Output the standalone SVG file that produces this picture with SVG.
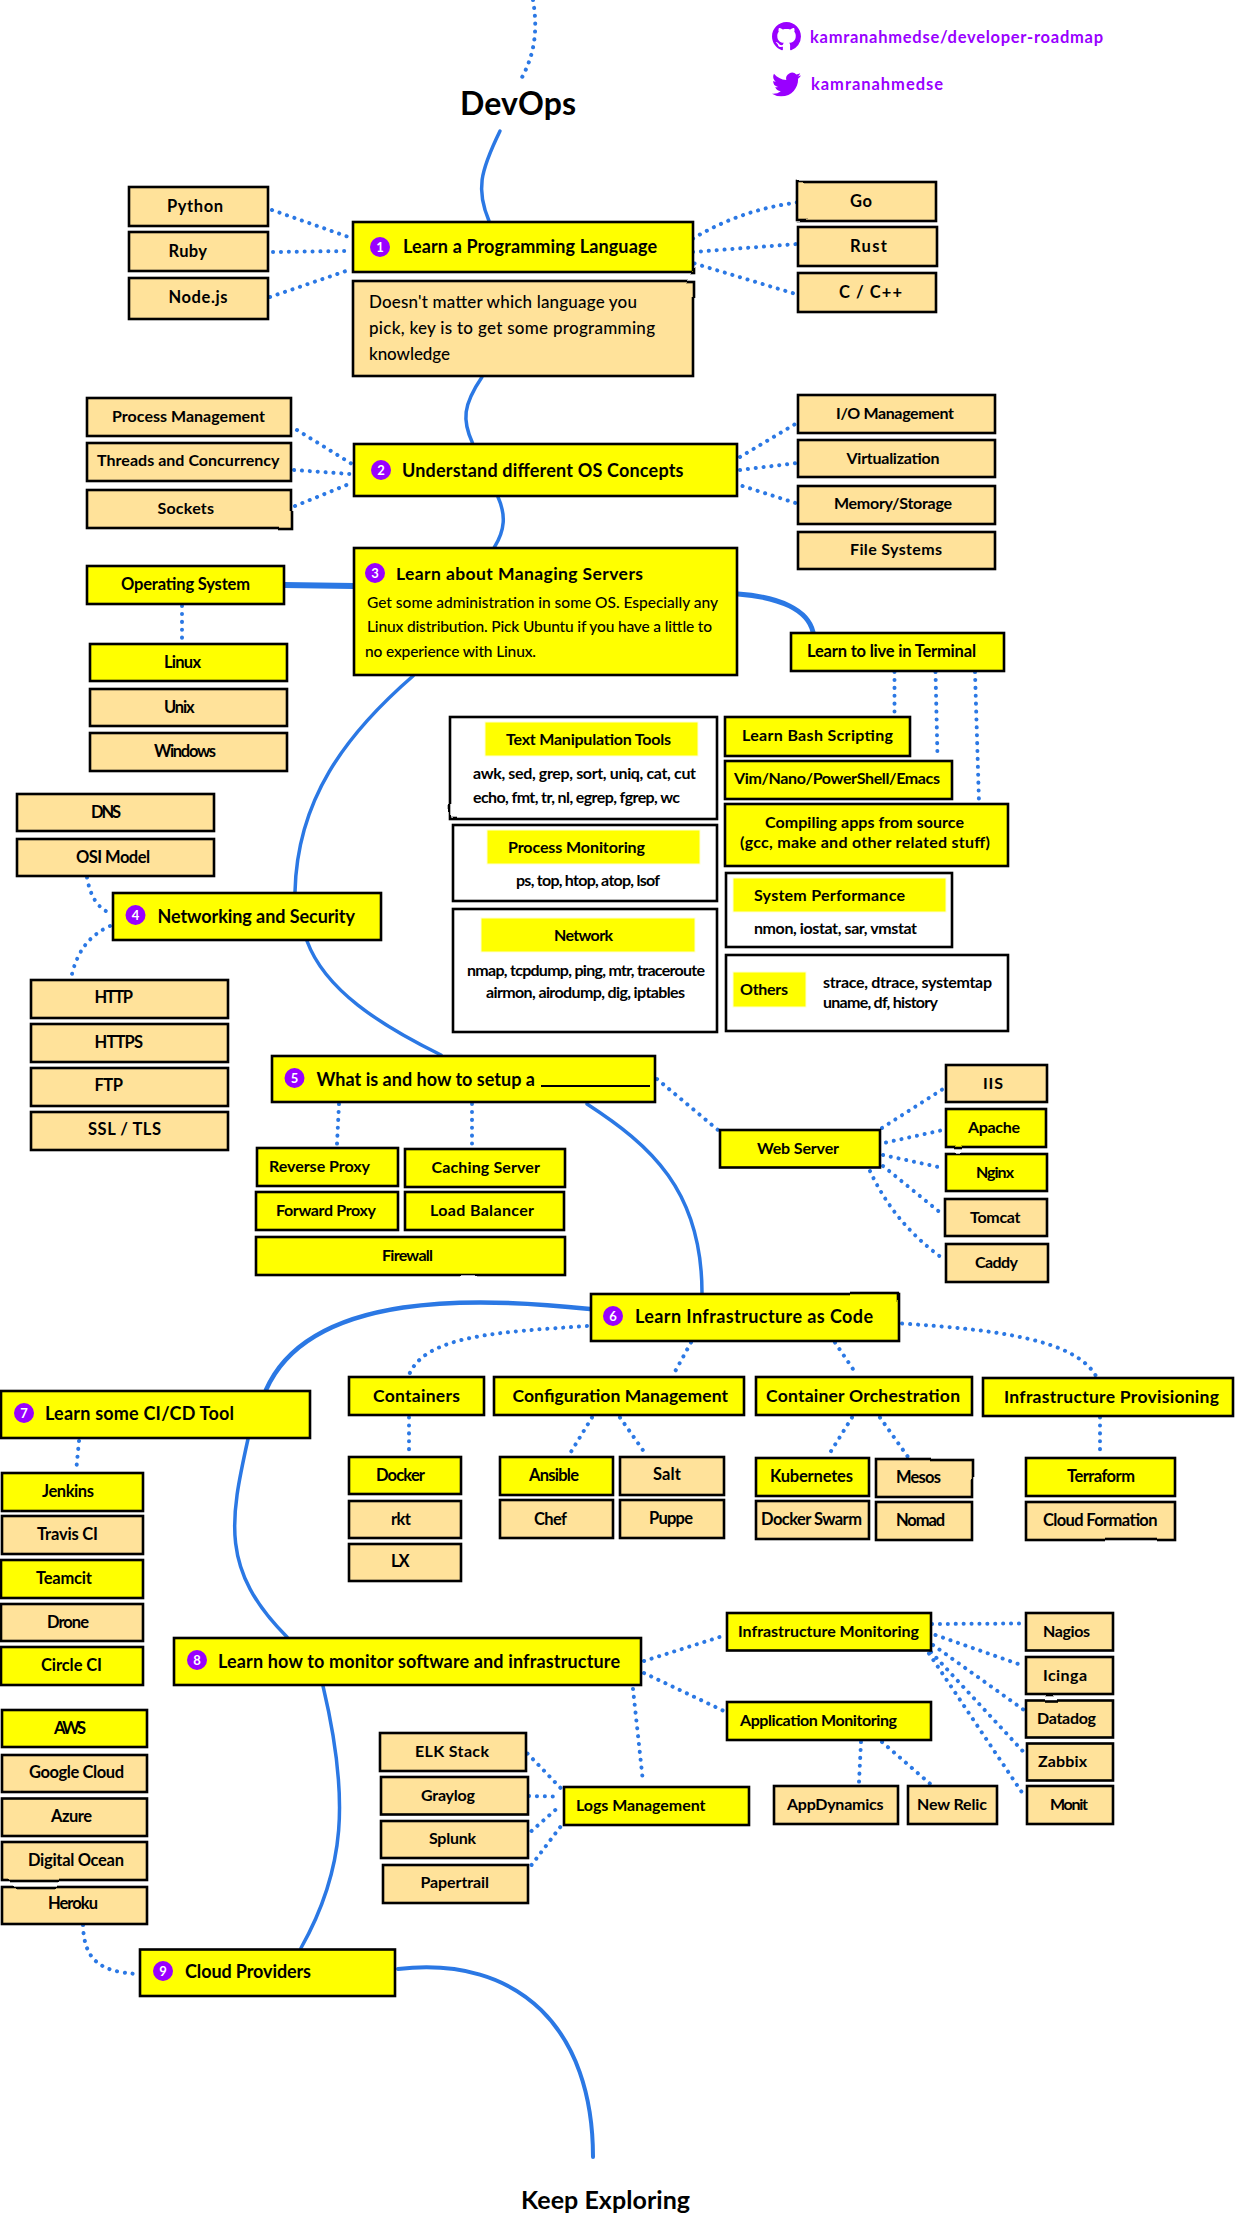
<svg xmlns="http://www.w3.org/2000/svg" width="1235" height="2218" viewBox="0 0 1235 2218">
<defs><filter id="wob" x="-5%" y="-15%" width="110%" height="130%"><feTurbulence type="fractalNoise" baseFrequency=".012" numOctaves="1" seed="4"/><feDisplacementMap in="SourceGraphic" scale="2"/></filter></defs>
<style>
text{font-family:"Lato","Noto Sans","Liberation Sans",sans-serif;font-weight:700;font-size:16.5px;fill:#000}
.y,.t,.w{stroke:#000;stroke-width:2.6;filter:url(#wob)}
.y{fill:#ff0}
.t{fill:#ffe29a}
.w{fill:#fff}
.h{fill:#ff0;stroke:#ffffd0;stroke-width:1}
.n{fill:#90f}
.num{fill:#fff;font-size:13px;text-anchor:middle}
.tt{font-size:18px}
.d{font-size:16px}
.r{font-size:15.5px;font-weight:500}
.note{font-size:17px;font-weight:500}
.lg{font-size:17.5px}
.link{fill:#90f;font-size:16.5px}
.big{font-size:32px}
.keep{font-size:25px}
.sol{fill:none;stroke:#2b78e4;stroke-width:3.5;stroke-linecap:round}
.dot{fill:none;stroke:#2b78e4;stroke-width:4;stroke-linecap:round;stroke-dasharray:.1 7.8}
.ul{stroke:#000;stroke-width:2}
</style>
<g id="connectors">
<path class="dot" d="M533 0C538 30 535 55 520 81"/>
<path class="sol" d="M500 131C480 172 476 190 489 221"/>
<path class="sol" d="M482 377C463 405 462 420 472.500 443"/>
<path class="sol" d="M498 497C506 515 505 530 494.500 547"/>
<path class="sol" d="M413 676C345 735 297 800 295 892"/>
<path class="sol" d="M307 941C325 990 380 1025 441 1055"/>
<path class="sol" d="M587 1104C650 1145 702 1190 702 1293"/>
<path class="sol" style="stroke-width:4.500" d="M590 1309C480 1297 310 1290 266 1390"/>
<path class="sol" d="M248 1439C230 1520 220 1570 287 1637"/>
<path class="sol" d="M323 1686C350 1800 345 1870 301 1948"/>
<path class="sol" style="stroke-width:4" d="M398 1969C520 1955 593 2030 593 2157"/>
<path class="sol" style="stroke-width:5" d="M738 594C780 597 808 610 813 632"/>
<path class="sol" style="stroke-width:6" d="M284 585L354 586"/>
<path class="dot" d="M272 210L350 237.500M273 252L348 251M270 297L349 270M693 238.600Q740 210 797 202.500M693 252L797 244M694.500 263.500L794 293.500"/>
<path class="dot" d="M297 430L352 464M294 470L350 474M295 506L349 484M740 457L797 423M740 470L797 463M742.500 486L797 503.500"/>
<path class="dot" d="M182 606V643M894.500 672V716M935.500 672L937.500 757M975 672L979 802.500"/>
<path class="dot" d="M87 877.500C90 895 97 908 110 913M110 926C90 935 78 950 72 974"/>
<path class="dot" d="M339 1104L337 1144M472 1104V1148M657 1079L718 1130"/>
<path class="dot" d="M882 1128L943 1089M886 1142.500L943 1130M883 1155L943 1168M883 1166L942 1214M870 1171Q895 1225 945 1260"/>
<path class="dot" d="M587 1326C500 1332 425 1335 409 1375M691 1342.500L674 1373.500M835 1342.500L857 1375M902 1323.500C1000 1330 1075 1340 1096 1376"/>
<path class="dot" d="M409 1417.500V1456M592 1417.500L568.500 1456M620 1417.500L647 1456M852 1417.500L828 1456M880 1417.500L908 1457M1100 1417.500V1455M79 1441L76 1472"/>
<path class="dot" d="M644 1661L723 1636M644 1673L724 1711M633 1689L643 1782M932 1624L1022 1623.500M935.500 1635L1024 1666M933 1645L1024 1710M931 1652L1025 1753.500M929 1653.500L1025 1797M861 1742L859 1782M882 1742L931.500 1785"/>
<path class="dot" d="M527.500 1753.500L560.600 1788M529 1796L557.500 1796.500M531.500 1831L561 1805M531.500 1865L561 1826M83 1925C84 1960 100 1972 138 1974"/>
</g>
<g id="title"><text class="big" x="460" y="115" textLength="116">DevOps</text></g>
<g id="github"><path class="n" transform="translate(772 22) scale(1.81)" d="M8 0C3.58 0 0 3.58 0 8c0 3.54 2.29 6.53 5.47 7.59.4.07.55-.17.55-.38 0-.19-.01-.82-.01-1.49-2.01.37-2.53-.49-2.69-.94-.09-.23-.48-.94-.82-1.13-.28-.15-.68-.52-.01-.53.63-.01 1.08.58 1.23.82.72 1.21 1.87.87 2.33.66.07-.52.28-.87.51-1.07-1.78-.2-3.64-.89-3.64-3.95 0-.87.31-1.59.82-2.15-.08-.2-.36-1.02.08-2.12 0 0 .67-.21 2.2.82.64-.18 1.32-.27 2-.27.68 0 1.36.09 2 .27 1.53-1.04 2.2-.82 2.2-.82.44 1.1.16 1.92.08 2.12.51.56.82 1.27.82 2.15 0 3.07-1.87 3.75-3.65 3.95.29.25.54.73.54 1.48 0 1.07-.01 1.93-.01 2.2 0 .21.15.46.55.38A8.013 8.013 0 0016 8c0-4.42-3.58-8-8-8z"/><text class="link" x="810" y="43" textLength="293">kamranahmedse/developer-roadmap</text></g>
<g id="twitter"><path class="n" transform="translate(772 70) scale(1.21)" d="M23.953 4.57a10 10 0 01-2.825.775 4.958 4.958 0 002.163-2.723c-.951.555-2.005.959-3.127 1.184a4.92 4.92 0 00-8.384 4.482C7.69 8.095 4.067 6.13 1.64 3.162a4.822 4.822 0 00-.666 2.475c0 1.71.87 3.213 2.188 4.096a4.904 4.904 0 01-2.228-.616v.06a4.923 4.923 0 003.946 4.827 4.996 4.996 0 01-2.212.085 4.936 4.936 0 004.604 3.417 9.867 9.867 0 01-6.102 2.105c-.39 0-.779-.023-1.17-.067a13.995 13.995 0 007.557 2.209c9.053 0 13.998-7.496 13.998-13.985 0-.21 0-.42-.015-.63A9.935 9.935 0 0024 4.59z"/><text class="link" x="811" y="90" textLength="132">kamranahmedse</text></g>

<g id="python"><rect class="t" x="129" y="187" width="139" height="39"/><text x="167" y="212" textLength="56">Python</text></g>
<g id="ruby"><rect class="t" x="129" y="232" width="139" height="39"/><text x="168.500" y="257" textLength="38.500">Ruby</text></g>
<g id="nodejs"><rect class="t" x="129" y="278" width="139" height="41"/><text x="168.500" y="303" textLength="59">Node.js</text></g>
<g id="go"><rect class="t" x="798" y="182" width="138" height="39"/><text x="850" y="206.500" textLength="22">Go</text></g>
<g id="rust"><rect class="t" x="798" y="227" width="139" height="39"/><text x="850" y="251.500" textLength="37">Rust</text></g>
<g id="cpp"><rect class="t" x="798" y="273" width="138" height="39"/><text x="839" y="298" textLength="63">C / C++</text></g>
<g id="step1"><rect class="y" x="353" y="222" width="340" height="50"/><circle class="n" cx="380" cy="247" r="10"/><text class="num" x="380" y="251.500">1</text><text class="tt" x="403" y="253" textLength="254">Learn a Programming Language</text></g>
<g id="step1-note"><rect class="t" x="353" y="281" width="340" height="95"/><text class="note" x="369" y="308" textLength="268">Doesn't matter which language you</text><text class="note" x="369" y="334" textLength="286">pick, key is to get some programming</text><text class="note" x="369" y="360" textLength="81">knowledge</text></g>

<g id="process-management"><rect class="t" x="87" y="398" width="204" height="38"/><text class="d" x="112" y="422" textLength="153">Process Management</text></g>
<g id="threads"><rect class="t" x="87" y="443" width="204" height="38"/><text class="d" x="97" y="466" textLength="182.500">Threads and Concurrency</text></g>
<g id="sockets"><rect class="t" x="87" y="490" width="204" height="38"/><text class="d" x="157.500" y="514" textLength="56.500">Sockets</text></g>
<g id="step2"><rect class="y" x="354" y="444" width="383" height="52"/><circle class="n" cx="381" cy="470" r="10"/><text class="num" x="381" y="474.500">2</text><text class="tt" x="402" y="477" textLength="281.500">Understand different OS Concepts</text></g>
<g id="io"><rect class="t" x="798" y="395" width="197" height="38"/><text class="d" x="836" y="419" textLength="118">I/O Management</text></g>
<g id="virtualization"><rect class="t" x="798" y="440" width="197" height="37"/><text class="d" x="846.500" y="464" textLength="93">Virtualization</text></g>
<g id="memory"><rect class="t" x="798" y="486" width="197" height="38"/><text class="d" x="834" y="509" textLength="118">Memory/Storage</text></g>
<g id="filesystems"><rect class="t" x="798" y="532" width="197" height="37"/><text class="d" x="850" y="555" textLength="92">File Systems</text></g>

<g id="step3"><rect class="y" x="354" y="548" width="383" height="127"/><circle class="n" cx="375" cy="573" r="10"/><text class="num" x="375" y="577.500">3</text><text class="lg" x="396" y="579.500" textLength="247">Learn about Managing Servers</text><text class="r" x="367" y="608" textLength="351">Get some administration in some OS. Especially any</text><text class="r" x="367" y="632" textLength="345">Linux distribution. Pick Ubuntu if you have a little to</text><text class="r" x="365" y="657" textLength="171">no experience with Linux.</text></g>
<g id="os"><rect class="y" x="87" y="566" width="197" height="38"/><text x="121" y="590" textLength="129">Operating System</text></g>
<g id="linux"><rect class="y" x="90" y="644" width="197" height="37"/><text x="164" y="668" textLength="37">Linux</text></g>
<g id="unix"><rect class="t" x="90" y="689" width="197" height="37"/><text x="164" y="713" textLength="30.500">Unix</text></g>
<g id="windows"><rect class="t" x="90" y="733" width="197" height="38"/><text x="154" y="757" textLength="62">Windows</text></g>
<g id="terminal"><rect class="y" x="791" y="633" width="213" height="38"/><text x="807" y="657" textLength="169">Learn to live in Terminal</text></g>

<g id="text-tools"><rect class="w" x="450" y="717" width="267" height="102"/><rect class="h" x="485" y="722" width="213" height="34"/><text class="d" x="506" y="745" textLength="165">Text Manipulation Tools</text><text class="d" x="473" y="779" textLength="223">awk, sed, grep, sort, uniq, cat, cut</text><text class="d" x="473" y="802.500" textLength="207">echo, fmt, tr, nl, egrep, fgrep, wc</text></g>
<g id="process-monitoring"><rect class="w" x="453" y="825" width="264" height="76"/><rect class="h" x="487" y="830" width="213" height="34"/><text class="d" x="508" y="853" textLength="137">Process Monitoring</text><text class="d" x="516" y="886" textLength="144">ps, top, htop, atop, lsof</text></g>
<g id="network"><rect class="w" x="453" y="909" width="264" height="123"/><rect class="h" x="481" y="918" width="214" height="34"/><text class="d" x="554" y="941" textLength="59">Network</text><text class="d" x="467" y="976" textLength="238">nmap, tcpdump, ping, mtr, traceroute</text><text class="d" x="486" y="998" textLength="199">airmon, airodump, dig, iptables</text></g>
<g id="bash"><rect class="y" x="725" y="717" width="185" height="39"/><text class="d" x="742" y="741" textLength="151">Learn Bash Scripting</text></g>
<g id="editors"><rect class="y" x="725" y="761" width="227" height="38"/><text class="d" x="734" y="784" textLength="206">Vim/Nano/PowerShell/Emacs</text></g>
<g id="compiling"><rect class="y" x="725" y="804" width="283" height="62"/><text class="d" x="765" y="828" textLength="199">Compiling apps from source</text><text class="d" x="740" y="848" textLength="250">(gcc, make and other related stuff)</text></g>
<g id="system-performance"><rect class="w" x="726" y="873" width="226" height="74"/><rect class="h" x="733" y="878" width="213" height="34"/><text class="d" x="754" y="901" textLength="151">System Performance</text><text class="d" x="754" y="934" textLength="163">nmon, iostat, sar, vmstat</text></g>
<g id="others"><rect class="w" x="726" y="955" width="282" height="76"/><rect class="h" x="733" y="972" width="73" height="35"/><text class="d" x="740" y="995" textLength="48">Others</text><text class="d" x="823" y="987.500" textLength="169">strace, dtrace, systemtap</text><text class="d" x="823" y="1007.500" textLength="115">uname, df, history</text></g>

<g id="dns"><rect class="t" x="17" y="794" width="197" height="37"/><text x="91" y="817.500" textLength="30">DNS</text></g>
<g id="osi"><rect class="t" x="17" y="839" width="197" height="37"/><text x="76" y="862.500" textLength="74">OSI Model</text></g>
<g id="step4"><rect class="y" x="113" y="893" width="268" height="47"/><circle class="n" cx="135.500" cy="915" r="10"/><text class="num" x="135.500" y="919.500">4</text><text class="tt" x="157.500" y="922.500" textLength="197.500">Networking and Security</text></g>
<g id="http"><rect class="t" x="31" y="980" width="197" height="38"/><text x="94.500" y="1003" textLength="38.500">HTTP</text></g>
<g id="https"><rect class="t" x="31" y="1024" width="197" height="38"/><text x="94.500" y="1047.500" textLength="48.500">HTTPS</text></g>
<g id="ftp"><rect class="t" x="31" y="1068" width="197" height="38"/><text x="94.500" y="1091" textLength="28.500">FTP</text></g>
<g id="ssl"><rect class="t" x="31" y="1112" width="197" height="38"/><text x="88" y="1135" textLength="73">SSL / TLS</text></g>

<g id="step5"><rect class="y" x="272" y="1056" width="383" height="46"/><circle class="n" cx="294.500" cy="1078" r="10"/><text class="num" x="294.500" y="1082.500">5</text><text class="tt" x="316.500" y="1085.500" textLength="218.500">What is and how to setup a</text><line class="ul" x1="541" y1="1086" x2="650" y2="1086"/></g>
<g id="reverse-proxy"><rect class="y" x="257" y="1148" width="141" height="38"/><text class="d" x="269" y="1172" textLength="101">Reverse Proxy</text></g>
<g id="caching"><rect class="y" x="405" y="1149" width="160" height="38"/><text class="d" x="431.500" y="1173" textLength="108.500">Caching Server</text></g>
<g id="forward-proxy"><rect class="y" x="256" y="1192" width="142" height="38"/><text class="d" x="276" y="1216" textLength="100">Forward Proxy</text></g>
<g id="load-balancer"><rect class="y" x="405" y="1192" width="159" height="38"/><text class="d" x="430" y="1216" textLength="104">Load Balancer</text></g>
<g id="firewall"><rect class="y" x="256" y="1237" width="309" height="38"/><text class="d" x="382" y="1261" textLength="51">Firewall</text></g>
<g id="webserver"><rect class="y" x="720" y="1130" width="160" height="37.500"/><text class="d" x="757" y="1153.500" textLength="82">Web Server</text></g>
<g id="iis"><rect class="t" x="946" y="1065" width="101" height="37"/><text class="d" x="983" y="1088.500" textLength="20">IIS</text></g>
<g id="apache"><rect class="y" x="946" y="1109" width="100" height="38"/><text class="d" x="968" y="1133" textLength="52">Apache</text></g>
<g id="nginx"><rect class="y" x="946" y="1154" width="101" height="37"/><text class="d" x="976" y="1178" textLength="38">Nginx</text></g>
<g id="tomcat"><rect class="t" x="945" y="1199" width="102" height="37"/><text class="d" x="970" y="1223" textLength="50.500">Tomcat</text></g>
<g id="caddy"><rect class="t" x="946" y="1244" width="102" height="38"/><text class="d" x="975" y="1268" textLength="43">Caddy</text></g>

<g id="step6"><rect class="y" x="591" y="1294" width="308" height="47"/><circle class="n" cx="613" cy="1316" r="10"/><text class="num" x="613" y="1320.500">6</text><text class="tt" x="635" y="1322.500" textLength="238">Learn Infrastructure as Code</text></g>
<g id="step7"><rect class="y" x="1" y="1391" width="309" height="47"/><circle class="n" cx="24" cy="1413" r="10"/><text class="num" x="24" y="1417.500">7</text><text class="tt" x="45" y="1420" textLength="189">Learn some CI/CD Tool</text></g>
<g id="containers"><rect class="y" x="349" y="1377" width="135" height="38"/><text class="lg" x="373" y="1402" textLength="87">Containers</text></g>
<g id="config"><rect class="y" x="494" y="1377" width="250" height="38"/><text class="lg" x="512.500" y="1402" textLength="215.500">Configuration Management</text></g>
<g id="orchestration"><rect class="y" x="756" y="1377" width="216" height="38"/><text class="lg" x="766" y="1402" textLength="194">Container Orchestration</text></g>
<g id="provisioning"><rect class="y" x="983" y="1378" width="250" height="38"/><text class="lg" x="1004" y="1403" textLength="215">Infrastructure Provisioning</text></g>
<g id="docker"><rect class="y" x="349" y="1457" width="112" height="37"/><text x="376" y="1481" textLength="49">Docker</text></g>
<g id="rkt"><rect class="t" x="349" y="1501" width="112" height="37"/><text x="391" y="1525" textLength="20">rkt</text></g>
<g id="lx"><rect class="t" x="349" y="1544" width="112" height="37"/><text x="391" y="1567" textLength="18.500">LX</text></g>
<g id="ansible"><rect class="y" x="500" y="1457" width="113" height="38"/><text x="529" y="1481" textLength="50">Ansible</text></g>
<g id="salt"><rect class="t" x="620" y="1457" width="104" height="38"/><text x="653" y="1480" textLength="28">Salt</text></g>
<g id="chef"><rect class="t" x="500" y="1500" width="113" height="38"/><text x="534" y="1525" textLength="33">Chef</text></g>
<g id="puppe"><rect class="t" x="620" y="1500" width="104" height="38"/><text x="649" y="1524" textLength="44">Puppe</text></g>
<g id="kubernetes"><rect class="y" x="756" y="1458" width="113" height="38"/><text x="770" y="1482" textLength="83">Kubernetes</text></g>
<g id="mesos"><rect class="t" x="876" y="1459" width="96" height="38"/><text x="896" y="1483" textLength="45">Mesos</text></g>
<g id="swarm"><rect class="t" x="756" y="1501" width="113" height="38"/><text x="761" y="1525" textLength="101">Docker Swarm</text></g>
<g id="nomad"><rect class="t" x="876" y="1502" width="96" height="38"/><text x="896" y="1526" textLength="49">Nomad</text></g>
<g id="terraform"><rect class="y" x="1026" y="1458" width="149" height="38"/><text x="1067" y="1482" textLength="68">Terraform</text></g>
<g id="cloudformation"><rect class="t" x="1026" y="1502" width="149" height="38"/><text x="1043" y="1526" textLength="114.500">Cloud Formation</text></g>

<g id="jenkins"><rect class="y" x="2" y="1473" width="141" height="38"/><text x="42" y="1497" textLength="52">Jenkins</text></g>
<g id="travis"><rect class="t" x="2" y="1516" width="141" height="38"/><text x="37" y="1540" textLength="61">Travis CI</text></g>
<g id="teamcit"><rect class="y" x="1" y="1560" width="142" height="38"/><text x="36" y="1584" textLength="56">Teamcit</text></g>
<g id="drone"><rect class="t" x="1" y="1604" width="142" height="37"/><text x="47" y="1628" textLength="42">Drone</text></g>
<g id="circleci"><rect class="y" x="1" y="1647" width="142" height="38"/><text x="41" y="1671" textLength="61">Circle CI</text></g>

<g id="step8"><rect class="y" x="174" y="1638" width="467" height="47"/><circle class="n" cx="197" cy="1660" r="10"/><text class="num" x="197" y="1664.500">8</text><text class="tt" x="218" y="1667.500" textLength="402">Learn how to monitor software and infrastructure</text></g>
<g id="infra-monitoring"><rect class="y" x="727" y="1613" width="204" height="37.500"/><text class="d" x="738" y="1637" textLength="181">Infrastructure Monitoring</text></g>
<g id="app-monitoring"><rect class="y" x="727" y="1702" width="204" height="38"/><text class="d" x="740" y="1726" textLength="157">Application Monitoring</text></g>
<g id="nagios"><rect class="t" x="1026" y="1613" width="87" height="37.500"/><text class="d" x="1043" y="1637" textLength="47">Nagios</text></g>
<g id="icinga"><rect class="t" x="1026" y="1657" width="87" height="37"/><text class="d" x="1043" y="1681" textLength="44">Icinga</text></g>
<g id="datadog"><rect class="t" x="1026" y="1700.500" width="87" height="37"/><text class="d" x="1037" y="1724" textLength="59">Datadog</text></g>
<g id="zabbix"><rect class="t" x="1027" y="1743.500" width="86" height="37"/><text class="d" x="1038" y="1767" textLength="49">Zabbix</text></g>
<g id="monit"><rect class="t" x="1027" y="1786" width="86" height="38"/><text class="d" x="1050" y="1810" textLength="38">Monit</text></g>
<g id="logs"><rect class="y" x="564" y="1787" width="185" height="38"/><text class="d" x="576" y="1811" textLength="129.500">Logs Management</text></g>
<g id="appdynamics"><rect class="t" x="774" y="1786" width="124" height="38"/><text class="d" x="787" y="1810" textLength="96.500">AppDynamics</text></g>
<g id="newrelic"><rect class="t" x="908" y="1786" width="89" height="38"/><text class="d" x="917" y="1810" textLength="70">New Relic</text></g>
<g id="elk"><rect class="t" x="380" y="1733" width="146" height="38"/><text class="d" x="415" y="1757" textLength="74">ELK Stack</text></g>
<g id="graylog"><rect class="t" x="381" y="1777" width="147" height="37.500"/><text class="d" x="421" y="1801" textLength="54">Graylog</text></g>
<g id="splunk"><rect class="t" x="381" y="1821" width="147" height="37"/><text class="d" x="429" y="1844" textLength="47">Splunk</text></g>
<g id="papertrail"><rect class="t" x="383" y="1865" width="145" height="38"/><text class="d" x="420.500" y="1888" textLength="68.500">Papertrail</text></g>
<g id="aws"><rect class="y" x="2" y="1710" width="145" height="37"/><text x="54" y="1734" textLength="32">AWS</text></g>
<g id="gcloud"><rect class="t" x="2" y="1755" width="145" height="37"/><text x="29" y="1778" textLength="95">Google Cloud</text></g>
<g id="azure"><rect class="t" x="2" y="1798.500" width="145" height="37.500"/><text x="51" y="1822" textLength="41">Azure</text></g>
<g id="digitalocean"><rect class="t" x="2" y="1842" width="145" height="38"/><text x="28" y="1866" textLength="96">Digital Ocean</text></g>
<g id="heroku"><rect class="t" x="2" y="1887" width="145" height="37"/><text x="48" y="1909" textLength="50">Heroku</text></g>
<g id="step9"><rect class="y" x="140" y="1949.500" width="255" height="46.500"/><circle class="n" cx="163" cy="1971" r="10"/><text class="num" x="163" y="1975.500">9</text><text class="tt" x="185" y="1978" textLength="126">Cloud Providers</text></g>
<g id="keep"><text class="keep" x="521" y="2209" textLength="169">Keep Exploring</text></g>
</svg>
